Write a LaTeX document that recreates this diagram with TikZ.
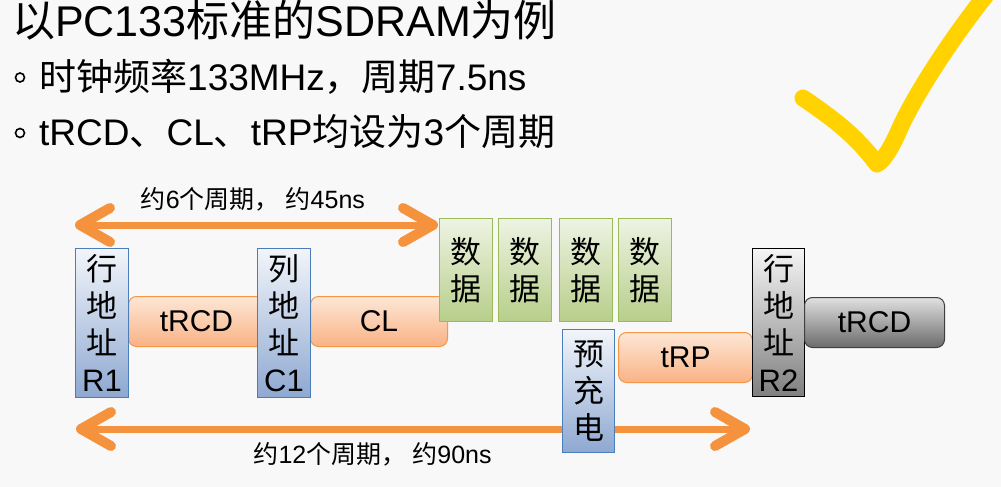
\documentclass[tikz,border=0pt]{standalone}
\usepackage{fontspec}
\setmainfont{Liberation Sans}
\newfontfamily\zh{Noto Sans CJK SC}
\usetikzlibrary{arrows.meta}
\definecolor{bgc}{HTML}{F8F8F8}
\definecolor{addrline}{HTML}{4A7EBB}
\definecolor{addrtop}{HTML}{F2F5FA}
\definecolor{addrbot}{HTML}{8EA8D1}
\definecolor{timeline}{HTML}{F79646}
\definecolor{timetop}{HTML}{FDE7D6}
\definecolor{timebot}{HTML}{F9B285}
\definecolor{dataline}{HTML}{9BBB59}
\definecolor{datatop}{HTML}{EEF3E3}
\definecolor{databot}{HTML}{B7CE8A}
\definecolor{spanc}{HTML}{F5923E}
\definecolor{tickc}{HTML}{FFD200}
\newcommand{\boxfont}{\fontsize{31}{37}\selectfont}
\newcommand{\labfont}{\fontsize{25}{29}\selectfont}
\tikzset{
  cell/.style={inner sep=0pt, anchor=north west, align=center, font=\boxfont, line width=1pt},
  addrbox/.style={cell, draw=addrline, top color=addrtop, bottom color=addrbot,
    minimum width=53pt, minimum height=149pt},
  rowbox/.style={cell, draw=black, top color=black!4, bottom color=black!50,
    minimum width=52pt, minimum height=148pt},
  databox/.style={cell, draw=dataline, top color=datatop, bottom color=databot,
    minimum width=53pt, minimum height=103pt},
  tbox/.style={cell, draw=timeline, rounded corners=8pt, top color=timetop, bottom color=timebot,
    minimum width=136pt, minimum height=50pt, font=\fontsize{30}{36}\selectfont},
  graybox/.style={tbox, draw=black!75, top color=black!12, bottom color=black!58,
    minimum width=140pt},
  span/.style={draw=spanc, line width=7pt,
    >={Straight Barb[length=30pt, width=34pt, line width=10pt, round]}, <->},
  spanlabel/.style={inner sep=0pt, text=black, font=\labfont},
  heading/.style={inner sep=0pt, anchor=base west, font=\fontsize{43}{50}\selectfont},
  bullet/.style={inner sep=0pt, anchor=base west, font=\fontsize{37}{44}\selectfont},
  dot/.style={circle, draw=black, line width=1.6pt, minimum size=9pt, inner sep=0pt},
  tick/.style={draw=tickc, line width=17pt, line cap=round, line join=round}
}
\begin{document}
\begin{tikzpicture}[x=1pt, y=-1pt]
  \fill[bgc] (0,0) rectangle (1001,487);
  \useasboundingbox (0,0) rectangle (1001,487);
  % heading and bullets
  \node[heading] (title) at (12,37) {{\zh 以}PC133{\zh 标准的}SDRAM{\zh 为例}};
  \node[dot] (dot1) at (20,77.5) {};
  \node[bullet] (line1) at (39,90) {{\zh 时钟频率}133MHz{\zh ，周期}7.5ns};
  \node[dot] (dot2) at (20,133) {};
  \node[bullet] (line2) at (39,145) {tRCD{\zh 、}CL{\zh 、}tRP{\zh 均设为}3{\zh 个周期}};
  % spans
  \coordinate (s1l) at (75,225);
  \coordinate (s1r) at (438,225);
  \coordinate (s2l) at (76,429);
  \coordinate (s2r) at (750,429);
  \draw[span] (s1l) -- node[spanlabel, pos=0.49, above=10pt] (lab1)
    {{\zh 约}6{\zh 个周期，}\hspace{6pt}{\zh 约}45ns} (s1r);
  \draw[span] (s2l) -- node[spanlabel, pos=0.44, below=10pt] (lab2)
    {{\zh 约}12{\zh 个周期，}\hspace{6pt}{\zh 约}90ns} (s2r);
  % timing
  \node[tbox] (trcd1) at (128,296) {tRCD};
  \node[tbox, minimum width=137pt] (cl) at (310,296) {CL};
  \node[addrbox] (r1) at (75,248) {{\zh 行}\\{\zh 地}\\{\zh 址}\\R1};
  \node[addrbox] (c1) at (257,248) {{\zh 列}\\{\zh 地}\\{\zh 址}\\C1};
  \foreach \x [count=\i] in {439,498,559,618}
    \node[databox] (dat\i) at (\x,218) {{\zh 数}\\{\zh 据}};
  \node[tbox, minimum width=134pt] (trp) at (618,332) {tRP};
  \node[addrbox, minimum width=52pt, minimum height=123pt] (pre) at (562,329) {{\zh 预}\\{\zh 充}\\{\zh 电}};
  \node[rowbox] (r2) at (752,248) {{\zh 行}\\{\zh 地}\\{\zh 址}\\R2};
  \node[graybox] (trcd2) at (804,297) {tRCD};
  % check mark
  \draw[tick] (803,98) .. controls (835,120) and (855,135) .. (877,164)
    .. controls (885,160) and (895,140) .. (900,128)
    .. controls (915,95) and (950,40) .. (990,-10);
\end{tikzpicture}
\end{document}
